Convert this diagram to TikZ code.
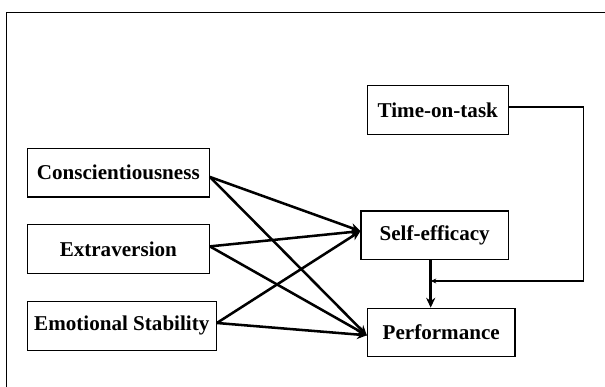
\documentclass[tikz,border=0pt]{standalone}
\usepackage{fontspec}
\setmainfont{Liberation Serif}
\usetikzlibrary{arrows.meta}

\tikzstyle{block} = [draw,line width=0.8pt,minimum height=1.215cm,inner sep=0pt,font=\fontsize{15}{17}\selectfont\bfseries]
\tikzstyle{line} = [draw,-{Stealth[length=7pt,width=6.5pt]},line width=1.8pt]
\tikzstyle{thin line} = [draw,-{Stealth[length=4pt,width=3.5pt]},line width=1pt]

\begin{document}
\begin{tikzpicture}
\useasboundingbox (0,0) rectangle (15.125,-9.675);
\draw[line width=0.9pt] (15.125,-0.3075) -- (0.1625,-0.3075) -- (0.1625,-9.675);
\node[block,minimum width=4.55cm] (consc) at (2.958,-4.318) {Conscientiousness};
\node[block,minimum width=4.55cm] (extra) at (2.958,-6.23) {Extraversion};
\node[block,minimum width=4.725cm] (emo) at (3.045,-8.145) {Emotional Stability};
\node[block,minimum width=3.525cm] (time) at (10.945,-2.75) {Time-on-task};
\node[block,minimum width=3.683cm] (self) at (10.867,-5.883) {Self-efficacy};
\node[block,minimum width=3.69cm] (perf) at (11.03,-8.3125) {Performance};
\coordinate (selfin) at ([yshift=3pt]self.west);
\coordinate (perfin) at ([yshift=-2pt]perf.west);
\coordinate (join) at (10.7675,-7.025);
\coordinate (turn) at (14.58,-7.025);
\path[line] ([yshift=-3pt]consc.east) -- (selfin);
\path[line] ([yshift=-3pt]consc.east) -- (perfin);
\path[line] ([yshift=2pt]extra.east) -- (selfin);
\path[line] ([yshift=2pt]extra.east) -- (perfin);
\path[line] ([yshift=2pt]emo.east) -- (selfin);
\path[line] ([yshift=2pt]emo.east) -- (perfin);
\path[line] (self.south -| join) -- (perf.north -| join);
\path[thin line] ([yshift=2pt]time.east) -| (turn) -- (join);
\end{tikzpicture}
\end{document}
